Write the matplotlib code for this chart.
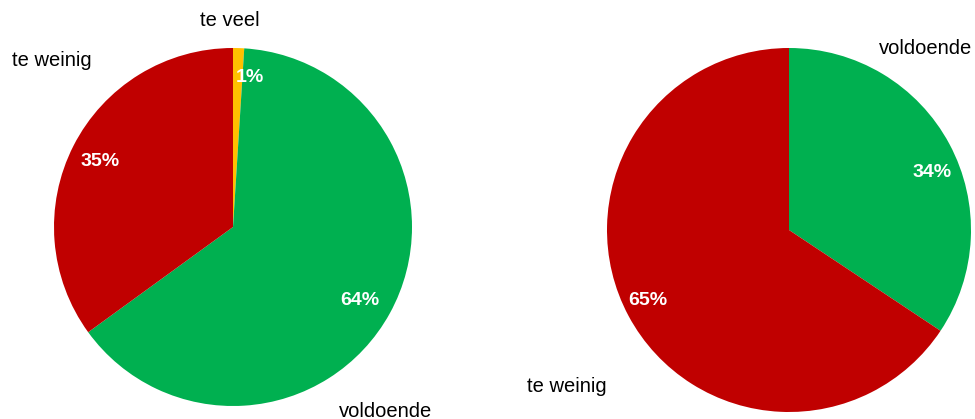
import matplotlib.pyplot as plt

plt.rcParams['font.family'] = ['Liberation Sans', 'DejaVu Sans']

# --- Data ---
left_labels = ['te veel', 'voldoende', 'te weinig']
left_values = [1, 64, 35]
left_pct = ['1%', '64%', '35%']
left_colors = ['#FFC000', '#00B050', '#C00000']

right_labels = ['voldoende', 'te weinig']
right_values = [34, 65]
right_pct = ['34%', '65%']
right_colors = ['#00B050', '#C00000']

# label positions (data coords, pie radius = 1)
left_label_pos = [(-0.02, 1.155), (0.85, -1.03), (-1.01, 0.93)]
left_pct_pos = [(0.095, 0.835), (0.71, -0.41), (-0.74, 0.365)]
right_label_pos = [(0.75, 1.0), (-1.22, -0.86)]
right_pct_pos = [(0.786, 0.315), (-0.775, -0.385)]

W, H = 975, 419
fig = plt.figure(figsize=(W / 100, H / 100), dpi=100)


def draw_pie(rect, xlim, ylim, values, colors, pct, pct_pos, labels, label_pos):
    ax = fig.add_axes(rect)
    ax.pie(values, colors=colors, startangle=90, counterclock=False,
           radius=1, wedgeprops={'linewidth': 0})
    for s, (x, y) in zip(pct, pct_pos):
        ax.text(x, y, s, ha='center', va='center', fontsize=14,
                color='white', fontweight='bold')
    for lab, (x, y) in zip(labels, label_pos):
        ax.text(x, y, lab, ha='center', va='center', fontsize=14.5, color='#000000')
    ax.set_xlim(*xlim)
    ax.set_ylim(*ylim)
    ax.set_aspect('auto')
    ax.axis('off')
    return ax


# left pie: center (233, 227) px, radius 179 px
r1 = 179
draw_pie([0, 0, 487 / W, 1], (-233 / r1, (487 - 233) / r1), (-(H - 227) / r1, 227 / r1),
         left_values, left_colors, left_pct, left_pct_pos, left_labels, left_label_pos)

# right pie: center (789, 230) px, radius 182 px
r2 = 182
draw_pie([487 / W, 0, (W - 487) / W, 1], (-(789 - 487) / r2, (W - 789) / r2),
         (-(H - 230) / r2, 230 / r2),
         right_values, right_colors, right_pct, right_pct_pos, right_labels, right_label_pos)

fig.savefig('out.png', dpi=100)
